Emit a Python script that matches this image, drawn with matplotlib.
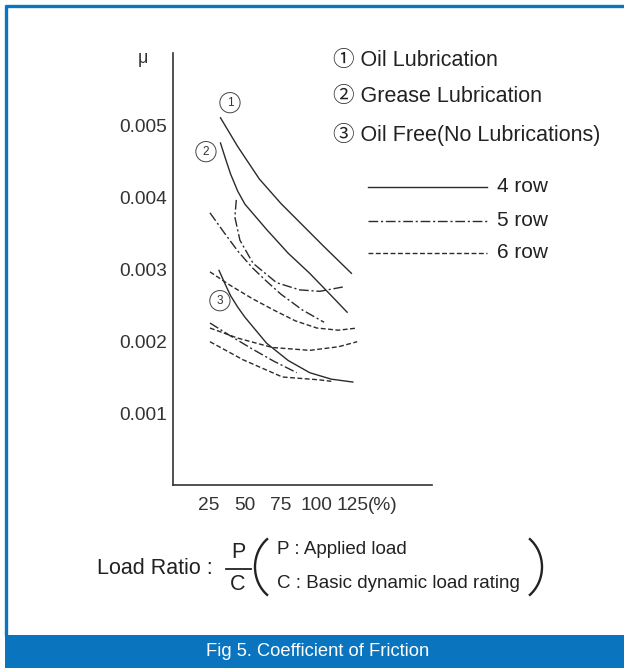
import matplotlib
matplotlib.use("Agg")
import matplotlib.pyplot as plt
from matplotlib.patches import Rectangle, Arc

SANS = "Liberation Sans"
CIRC = [SANS, "Noto Sans CJK JP", "DejaVu Sans"]

BLUE = "#0a74bf"
INK = "#2b2b2b"

# load ratio P/C (%) vs friction coefficient
oil_x = [33, 45, 60, 75, 90, 105, 124]
oil_y = [0.00510, 0.00470, 0.00425, 0.00391, 0.00361, 0.00331, 0.00294]

grease_x = [33, 37, 40, 45, 50, 65, 80, 95, 110, 121]
grease_y = [0.00475, 0.00450, 0.00432, 0.00408, 0.00390, 0.00355, 0.00322, 0.00294, 0.00263, 0.00240]

grease_dd_u_x = [44, 43, 46.5, 55.6, 72, 88, 102, 118]
grease_dd_u_y = [0.00396, 0.00372, 0.00340, 0.00308, 0.00281, 0.00271, 0.00269, 0.00275]

grease_dd_x = [25.7, 35, 45, 55, 65, 75, 90, 105]
grease_dd_y = [0.00378, 0.00352, 0.00325, 0.00302, 0.00283, 0.00265, 0.00243, 0.00226]

grease_dash_x = [25.7, 40, 55, 70, 85, 100, 115, 128]
grease_dash_y = [0.00296, 0.00277, 0.00259, 0.00243, 0.00228, 0.00218, 0.00215, 0.00218]

free_x = [32, 36, 40, 45, 50, 65, 80, 95, 110, 125]
free_y = [0.00298, 0.00280, 0.00263, 0.00247, 0.00233, 0.00197, 0.00173, 0.00156, 0.00147, 0.00143]

free_dd_x = [25.7, 40, 55, 70, 86]
free_dd_y = [0.00225, 0.00207, 0.00189, 0.00172, 0.00156]

free_dash_a_x = [25.7, 45, 69, 95, 115, 128]
free_dash_a_y = [0.00218, 0.00204, 0.00191, 0.00187, 0.00192, 0.00199]

free_dash_b_x = [25.7, 48.6, 76, 102, 110]
free_dash_b_y = [0.00199, 0.00174, 0.00150, 0.00146, 0.00144]

x_ticks = [25, 50, 75, 100, 125]
y_ticks = [0.001, 0.002, 0.003, 0.004, 0.005]

DASHDOT = (0, (7, 2, 1.5, 2))
DASHED = (0, (3.5, 1.8))

fig = plt.figure(figsize=(6.24, 6.68), dpi=100)

# pixel-space overlay for frame, legend and caption
bg = fig.add_axes([0, 0, 1, 1])
bg.set_xlim(0, 624)
bg.set_ylim(668, 0)
bg.axis("off")

bg.plot([6, 6], [5, 636], color=BLUE, lw=2.4, solid_capstyle="butt")
bg.plot([5, 624], [6, 6], color=BLUE, lw=2.4, solid_capstyle="butt")
bg.add_patch(Rectangle((5, 635), 619, 33, color=BLUE, lw=0))
bg.text(318, 652, "Fig 5. Coefficient of Friction", color="white", ha="center",
        va="center", fontsize=13.2, family=SANS)

legend_txt = ["\u2460 Oil Lubrication", "\u2461 Grease Lubrication",
              "\u2462 Oil Free(No Lubrications)"]
for txt, y in zip(legend_txt, [60, 97, 135]):
    bg.text(333, y, txt, fontsize=15.5, family=CIRC, va="center", color="#222")

for ls, lab, y in [("-", "4 row", 187), (DASHDOT, "5 row", 221), (DASHED, "6 row", 253)]:
    bg.plot([368, 487], [y, y], color=INK, lw=1.0, ls=ls)
    bg.text(497, y, lab, fontsize=15, family=SANS, va="center", color="#222")

bg.text(97, 569, "Load Ratio :", fontsize=15.5, family=SANS, va="center", color="#222")
bg.text(238, 553, "P", fontsize=15.5, family=SANS, ha="center", va="center", color="#222")
bg.plot([226, 251], [569, 569], color="#222", lw=1.3)
bg.text(238, 585, "C", fontsize=15.5, family=SANS, ha="center", va="center", color="#222")
bg.add_patch(Arc((288, 567), 66, 72, theta1=125, theta2=235, color="#222", lw=1.7))
bg.add_patch(Arc((509, 567), 66, 72, theta1=-55, theta2=55, color="#222", lw=1.7))
bg.text(277, 550, "P : Applied load", fontsize=13.5, family=SANS, va="center", color="#222")
bg.text(277, 584, "C : Basic dynamic load rating", fontsize=13.5, family=SANS,
        va="center", color="#222")

# main chart
ax = fig.add_axes([173 / 624, (668 - 485) / 668, (432 - 173) / 624, (485 - 53) / 668])
ax.patch.set_alpha(0)

ax.plot(oil_x, oil_y, color=INK, lw=1.0)
ax.plot(grease_x, grease_y, color=INK, lw=1.0)
ax.plot(grease_dd_u_x, grease_dd_u_y, color=INK, lw=1.0, ls=DASHDOT)
ax.plot(grease_dd_x, grease_dd_y, color=INK, lw=1.0, ls=DASHDOT)
ax.plot(grease_dash_x, grease_dash_y, color=INK, lw=1.0, ls=DASHED)
ax.plot(free_x, free_y, color=INK, lw=1.0)
ax.plot(free_dd_x, free_dd_y, color=INK, lw=1.0, ls=DASHDOT)
ax.plot(free_dash_a_x, free_dash_a_y, color=INK, lw=1.0, ls=DASHED)
ax.plot(free_dash_b_x, free_dash_b_y, color=INK, lw=1.0, ls=DASHED)

circ = dict(boxstyle="circle,pad=0.35", fc="white", ec="#444", lw=0.7)
for num, (cx, cy) in zip(["1", "2", "3"], [(39.6, 0.00531), (22.9, 0.00463), (32.6, 0.00256)]):
    ax.text(cx, cy, num, fontsize=8.5, family=SANS, ha="center", va="center",
            color="#333", bbox=circ)

ax.set_xlim(0, 180)
ax.set_ylim(0, 0.006)
ax.set_xticks(x_ticks)
ax.set_xticklabels([str(v) for v in x_ticks])
ax.set_yticks(y_ticks)
ax.set_yticklabels([f"{v:.3f}" for v in y_ticks])
ax.tick_params(length=0, colors="#333")
ax.tick_params(axis="y", pad=4.5, labelsize=13.8)
ax.tick_params(axis="x", pad=9, labelsize=13.8)
for lab in ax.get_xticklabels() + ax.get_yticklabels():
    lab.set_family(SANS)
ax.annotate("(%)", xy=(125, 0), xycoords=("data", "axes fraction"),
            xytext=(10.5, -9), textcoords="offset points", ha="left", va="top",
            fontsize=13.8, family=SANS, color="#333")
ax.text(-0.116, 0.988, "\u03bc", transform=ax.transAxes, fontsize=13,
        family=SANS, ha="center", va="center", color="#333")

for side in ["top", "right"]:
    ax.spines[side].set_visible(False)
for side in ["left", "bottom"]:
    ax.spines[side].set_color("#333")
    ax.spines[side].set_linewidth(1.2)

fig.savefig("out.png", dpi=100)
